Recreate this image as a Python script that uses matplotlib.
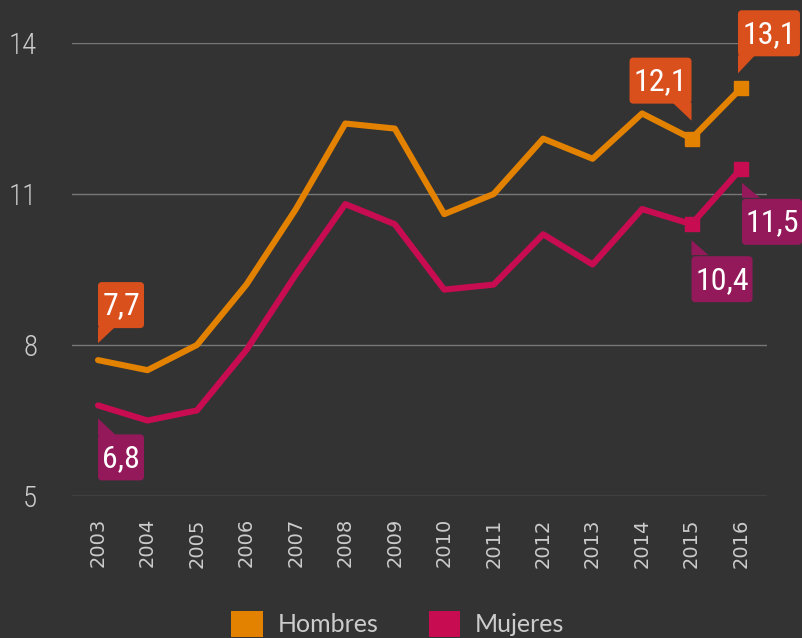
import matplotlib
matplotlib.use("Agg")
import matplotlib.pyplot as plt
from matplotlib.patches import FancyBboxPatch, Polygon, Patch
from matplotlib import transforms

years = list(range(2003, 2017))
hombres = [7.7, 7.5, 8.0, 9.2, 10.7, 12.4, 12.3, 10.6, 11.0, 12.1, 11.7, 12.6, 12.1, 13.1]
mujeres = [6.8, 6.5, 6.7, 7.9, 9.4, 10.8, 10.4, 9.1, 9.2, 10.2, 9.6, 10.7, 10.4, 11.5]
yticks = [5, 8, 11, 14]
series_names = ["Hombres", "Mujeres"]

BG = "#333333"
C_H = "#E38200"
C_M = "#C80C52"
CALL_H = "#DA501D"
CALL_M = "#94195A"
TXT = "#CCCCCC"
COND = ["Roboto Condensed", "Liberation Sans Narrow", "DejaVu Sans"]

fig = plt.figure(figsize=(8.02, 6.38), dpi=100, facecolor=BG)
W, H = 802, 638
ax = fig.add_axes([72 / W, (H - 496) / H, (767 - 72) / W, (496 - 43) / H])
ax.set_facecolor(BG)
ax.set_xlim(2003 - 0.526, 2016 + 0.526)
ax.set_ylim(5, 14)
for s in ax.spines.values():
    s.set_visible(False)
ax.set_yticks(yticks)
ax.set_yticklabels([str(v) for v in yticks], family=COND, fontstretch="condensed",
                   fontweight="light", fontsize=21, color=TXT)
ax.set_xticks(years)
ax.set_xticklabels([str(y) for y in years], rotation=90, fontsize=14, color=TXT)
ax.tick_params(axis="y", length=0, pad=25)
ax.tick_params(axis="x", length=0, pad=16)
ax.grid(axis="y", color="#777777", linewidth=1)
ax.set_axisbelow(True)

for vals, col in [(hombres, C_H), (mujeres, C_M)]:
    ax.plot(years, vals, color=col, linewidth=4.4, solid_capstyle="round",
            solid_joinstyle="round", zorder=3)
    ax.plot(years[-2:], vals[-2:], linestyle="none", marker="s", markersize=10.5,
            color=col, zorder=4)


def callout(x, y, text, color, box, tail):
    # box: (x0, y0, w, h) in pixels relative to data point; tail: list of pixel offsets
    trans = transforms.Affine2D() + transforms.ScaledTranslation(x, y, ax.transData)
    bx, by, bw, bh = box
    p = FancyBboxPatch((bx, by), bw, bh, boxstyle="round,pad=0,rounding_size=4",
                       transform=trans, facecolor=color, edgecolor="none",
                       clip_on=False, zorder=6)
    ax.add_patch(p)
    ax.add_patch(Polygon(tail, closed=True, transform=trans, facecolor=color,
                         edgecolor="none", clip_on=False, zorder=6))
    ax.text(bx + bw / 2, by + bh / 2 - 1, text, transform=trans, ha="center",
            va="center", color="white", fontsize=23, family=COND,
            fontstretch="condensed", zorder=7, clip_on=False)


i0, i15, i16 = 0, years.index(2015), years.index(2016)
fmt = lambda v: f"{v:.1f}".replace(".", ",")
callout(years[i0], hombres[i0], fmt(hombres[i0]), CALL_H,
        (0, 32, 46, 46), [(0, 33), (0, 17), (17, 33)])
callout(years[i0], mujeres[i0], fmt(mujeres[i0]), CALL_M,
        (0, -75, 46, 46), [(0, -30), (0, -13), (18, -30)])
callout(years[i15], hombres[i15], fmt(hombres[i15]), CALL_H,
        (-62, 35, 62, 46), [(0, 36), (0, 18), (-19, 36)])
callout(years[i16], hombres[i16], fmt(hombres[i16]), CALL_H,
        (-3, 32, 62, 46), [(-3, 33), (-3, 15), (14, 33)])
callout(years[i15], mujeres[i15], fmt(mujeres[i15]), CALL_M,
        (0, -78, 61, 46), [(0, -31), (0, -16), (17, -31)])
callout(years[i16], mujeres[i16], fmt(mujeres[i16]), CALL_M,
        (1, -76, 60, 46), [(1, -29), (1, -14), (19, -29)])

handles = [Patch(facecolor=C_H, edgecolor="none"), Patch(facecolor=C_M, edgecolor="none")]
leg = fig.legend(handles, series_names, loc="center", bbox_to_anchor=(0.496, 14 / H),
                 ncol=2, frameon=False, handlelength=1.25, handleheight=1.25,
                 handletextpad=0.6, columnspacing=2.0,
                 prop={"family": "Lato", "size": 18})
for t in leg.get_texts():
    t.set_color(TXT)

fig.savefig("out.png", dpi=100, facecolor=BG)
